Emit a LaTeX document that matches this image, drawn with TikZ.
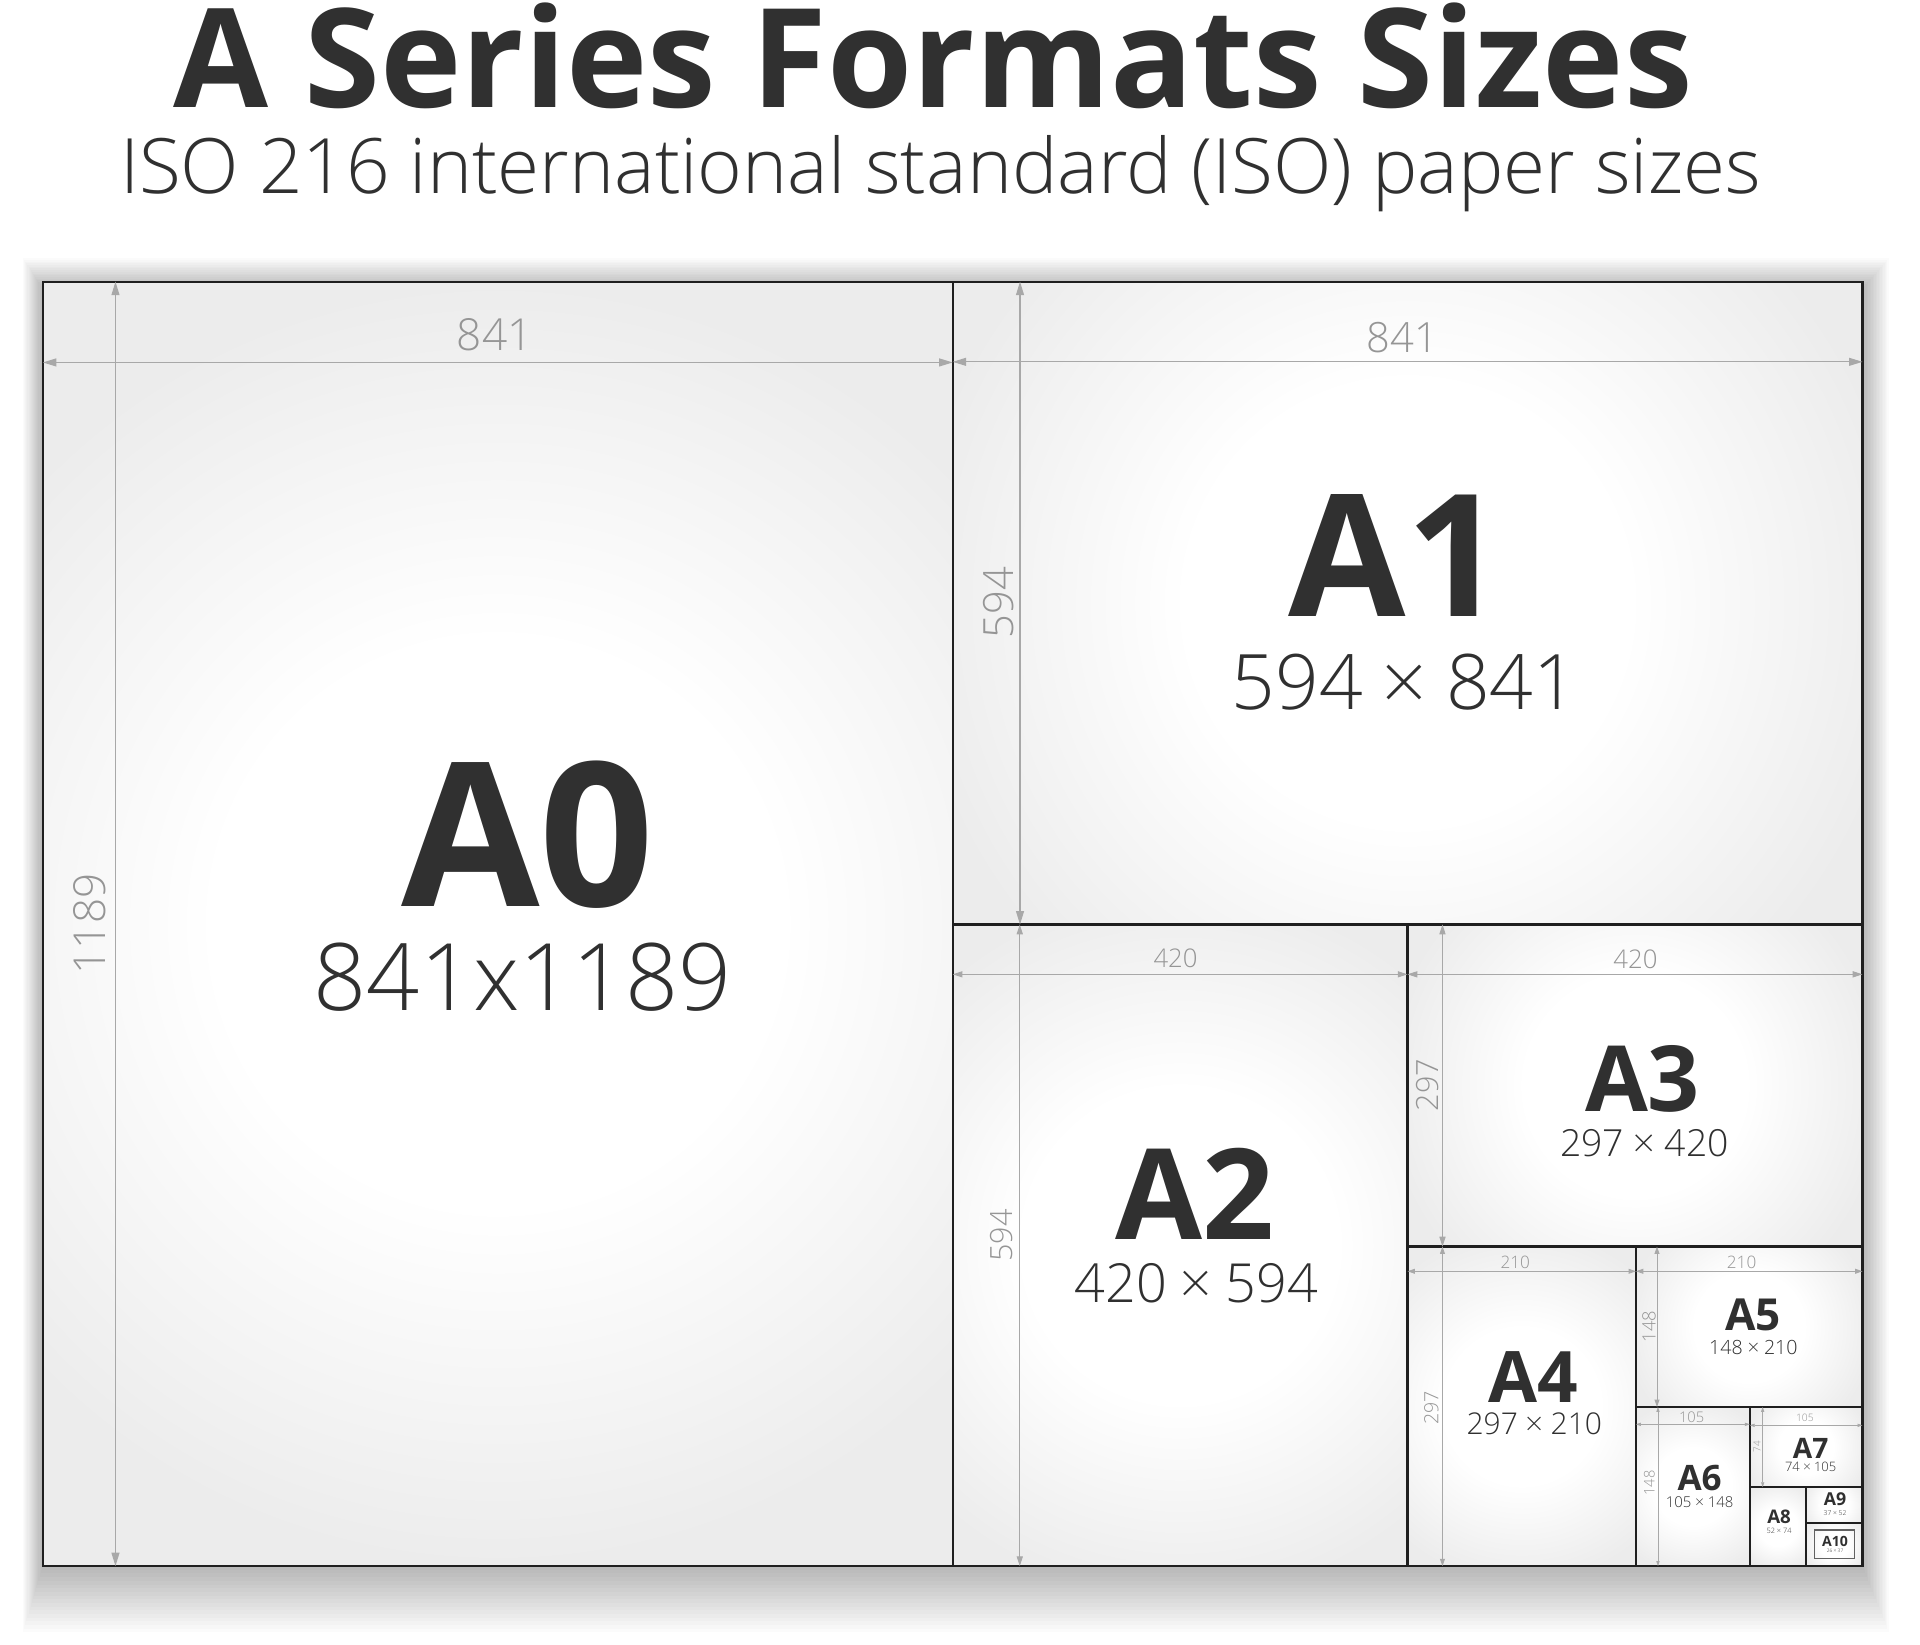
\documentclass[tikz,border=0pt]{standalone}
\usepackage{fontspec}
\setmainfont{Open Sans}
\IfFontExistsTF{Open Sans Light}{\newfontfamily\lightfam{Open Sans Light}}{\newfontfamily\lightfam{Open Sans}}
\usetikzlibrary{arrows.meta}
\definecolor{pg}{HTML}{ECECEC}
\definecolor{ink}{HTML}{303030}
\definecolor{dimc}{HTML}{A8A8A8}
\definecolor{dimt}{HTML}{959595}
\pgfdeclareradialshading{glow}{\pgfpoint{0bp}{0bp}}{color(0bp)=(white); color(11bp)=(white); color(25bp)=(pg); color(50bp)=(pg)}
\newcommand\fs[1]{\fontsize{#1}{#1}\selectfont}
\begin{document}
\begin{tikzpicture}[x=1pt,y=-1pt,
  panel/.style={draw=black!88, line width=1.8pt, fill=pg, inner sep=0pt, outer sep=0pt,
    path picture={\shade[shading=glow] (path picture bounding box.center) circle (#1);}},
  big/.style={text=ink, font=\bfseries\fs{#1}, inner sep=0pt},
  sizel/.style={text=ink, font=\lightfam\fs{#1}, inner sep=0pt},
  dlab/.style={text=dimt, font=\lightfam\fs{#1}, inner sep=0pt},
  dimL/.style={draw=dimc, line width=0.9pt, {Triangle[length=11pt,width=6.5pt]}-{Triangle[length=11pt,width=6.5pt]}},
  dimM/.style={draw=dimc, line width=0.8pt, {Triangle[length=8pt,width=5pt]}-{Triangle[length=8pt,width=5pt]}},
  dimS/.style={draw=dimc, line width=0.7pt, {Triangle[length=6pt,width=4pt]}-{Triangle[length=6pt,width=4pt]}},
  dimXS/.style={draw=dimc, line width=0.5pt, {Triangle[length=4pt,width=2.6pt]}-{Triangle[length=4pt,width=2.6pt]}}
]
\useasboundingbox[fill=white] (0,0) rectangle (1568,1343);

% title
\node[big=112.5, anchor=base] (title) at (762,87.5) {A Series Formats Sizes};
\node[sizel=62.4, anchor=base] (subtitle) at (768,158) {ISO 216 international standard (ISO) paper sizes};

% shadow
\foreach \i in {1,...,18}{
  \fill[black, opacity=0.016] (35-\i*0.9, 236-\i*1.4) rectangle (1521+\i*1.2, 1279+\i*3.0);
}

% panels
\node[panel=525pt, minimum width=743pt, minimum height=1049pt] (a0) at (406.5,754.5) {};
\node[panel=410pt, minimum width=743pt, minimum height=525pt] (a1) at (1149.5,492.5) {};
\node[panel=290pt, minimum width=371.5pt, minimum height=524pt] (a2) at (963.75,1017) {};
\node[panel=205pt, minimum width=371.5pt, minimum height=263pt] (a3) at (1335.25,886.5) {};
\node[panel=145pt, minimum width=186.5pt, minimum height=261pt] (a4) at (1242.75,1148.5) {};
\node[panel=102pt, minimum width=185pt, minimum height=131pt] (a5) at (1428.5,1083.5) {};
\node[panel=72pt, minimum width=93pt, minimum height=130pt] (a6) at (1382.5,1214) {};
\node[panel=51pt, minimum width=92pt, minimum height=65.5pt] (a7) at (1475,1181.75) {};
\node[panel=36pt, minimum width=46pt, minimum height=64.5pt] (a8) at (1452,1246.75) {};
\node[panel=26pt, minimum width=46pt, minimum height=29pt] (a9) at (1498,1229) {};
\node[panel=26pt, minimum width=46pt, minimum height=35.5pt] (a10) at (1498,1261.25) {};
\node[draw=black!62, line width=1pt, minimum width=32.7pt, minimum height=23.1pt, inner sep=0pt] (a10b) at (1498,1261) {};

% dimension lines
\draw[dimL] (a0.west |- 0,296) -- (a0.east |- 0,296);
\draw[dimL] (a0.north -| 94.3,0) -- (a0.south -| 94.3,0);
\draw[dimL] (a1.west |- 0,295.5) -- (a1.east |- 0,295.5);
\draw[dimL] (a1.north -| 833,0) -- (a1.south -| 833,0);
\draw[dimM] (a2.west |- 0,795.7) -- (a2.east |- 0,795.7);
\draw[dimM] (a2.north -| 832.8,0) -- (a2.south -| 832.8,0);
\draw[dimM] (a3.west |- 0,795.7) -- (a3.east |- 0,795.7);
\draw[dimM] (a3.north -| 1178,0) -- (a3.south -| 1178,0);
\draw[dimS] (a4.west |- 0,1038.2) -- (a4.east |- 0,1038.2);
\draw[dimS] (a4.north -| 1178,0) -- (a4.south -| 1178,0);
\draw[dimS] (a5.west |- 0,1038.2) -- (a5.east |- 0,1038.2);
\draw[dimS] (a5.north -| 1353.2,0) -- (a5.south -| 1353.2,0);
\draw[dimXS] (a6.west |- 0,1163.2) -- (a6.east |- 0,1163.2);
\draw[dimXS] (a6.north -| 1354,0) -- (a6.south -| 1354,0);
\draw[dimXS] (a7.west |- 0,1164) -- (a7.east |- 0,1164);
\draw[dimXS] (a7.north -| 1439.5,0) -- (a7.south -| 1439.5,0);

% dimension labels
\node[dlab=36] (d0h) at (404,273.5) {841};
\node[dlab=36, rotate=90] (d0v) at (73,754.6) {1189};
\node[dlab=34] (d1h) at (1145.4,276) {841};
\node[dlab=34, rotate=90] (d1v) at (815.6,492) {594};
\node[dlab=21] (d2h) at (960,782.6) {420};
\node[dlab=25, rotate=90] (d2v) at (818,1009) {594};
\node[dlab=21] (d3h) at (1335.6,783.2) {420};
\node[dlab=25, rotate=90] (d3v) at (1165.7,886) {297};
\node[dlab=14] (d4h) at (1237.4,1030.6) {210};
\node[dlab=16, rotate=90] (d4v) at (1169,1150) {297};
\node[dlab=14] (d5h) at (1422.3,1030.6) {210};
\node[dlab=15, rotate=90] (d5v) at (1346.7,1083.4) {148};
\node[dlab=12] (d6h) at (1381.5,1157) {105};
\node[dlab=12, rotate=90] (d6v) at (1347,1211) {148};
\node[dlab=8.4] (d7h) at (1474,1158) {105};
\node[dlab=8, rotate=90] (d7v) at (1435,1181.5) {74};

% format labels
\node[big=164] (t0) at (431,681.7) {A0};
\node[sizel=76] (s0) at (427,797.9) {841x1189};
\node[big=139] (t1) at (1140,453.5) {A1};
\node[sizel=62.5] (s1) at (1147,557) {594 × 841};
\node[big=103] (t2) at (976,975) {A2};
\node[sizel=44] (s2) at (977,1048) {420 × 594};
\node[big=74.5] (t3) at (1341.4,881.4) {A3};
\node[sizel=30.5] (s3) at (1343,933.2) {297 × 420};
\node[big=58] (t4) at (1252.2,1124.3) {A4};
\node[sizel=24.5] (s4) at (1253,1163) {297 × 210};
\node[big=36] (t5) at (1431.9,1073.9) {A5};
\node[sizel=16] (s5) at (1431.9,1100.3) {148 × 210};
\node[big=28.6] (t6) at (1388,1207) {A6};
\node[sizel=12.2] (s6) at (1388,1226.4) {105 × 148};
\node[big=23] (t7) at (1478.7,1182.6) {A7};
\node[sizel=10.6] (s7) at (1478.7,1198) {74 × 105};
\node[big=15.3] (t8) at (1452.9,1238.6) {A8};
\node[sizel=6] (s8) at (1452.9,1250) {52 × 74};
\node[big=14.5] (t9) at (1498.6,1224.5) {A9};
\node[sizel=5.5] (s9) at (1498.6,1235.3) {37 × 52};
\node[big=11.5] (t10) at (1498.6,1259) {A10};
\node[sizel=4] (s10) at (1498.6,1266.3) {26 × 37};
\end{tikzpicture}
\end{document}
